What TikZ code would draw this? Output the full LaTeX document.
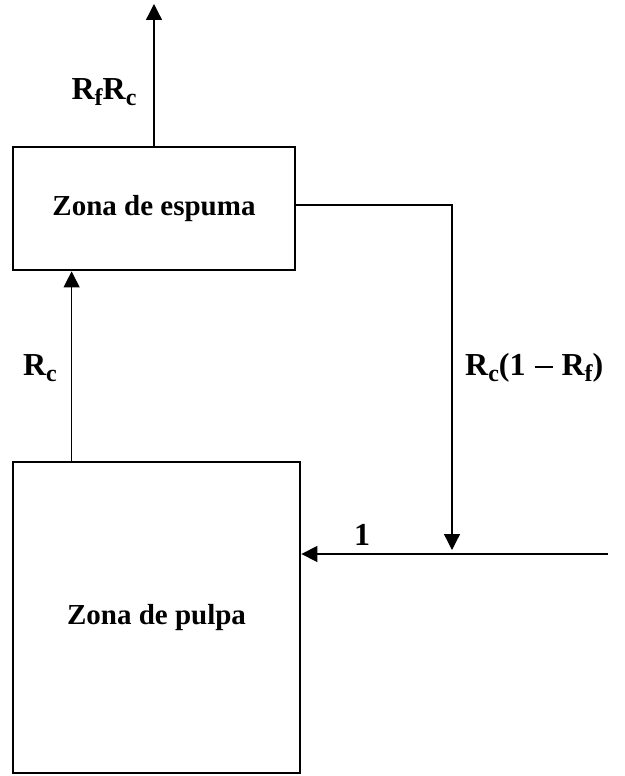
\documentclass[tikz,border=0pt]{standalone}
\usepackage{fontspec}
\setmainfont{Liberation Serif}
\usetikzlibrary{arrows.meta,positioning}
\newcommand{\lsub}[1]{\raisebox{-6pt}{\fontsize{24}{24}\selectfont #1}}
\newcommand{\lminus}{\hspace{9pt}\rule[8pt]{18pt}{1.8pt}\hspace{9pt}}
\tikzset{
  zone/.style={draw,line width=2.8pt,minimum width=282pt,inner sep=0pt,font=\fontsize{29}{33}\selectfont\bfseries},
  flow/.style={line width=1.3pt,-{Triangle[width=16pt,length=16pt]}},
  lbl/.style={font=\fontsize{32}{36}\selectfont\bfseries}
}
\begin{document}
\begin{tikzpicture}[x=1pt,y=-1pt]
  \useasboundingbox (0,0) rectangle (624,776);
  % zones
  \node[zone,minimum height=123pt] (espuma) at (154,208.5) {Zona de espuma};
  \node[zone,minimum width=287pt,minimum height=311pt] (pulpa) at (156.5,617.5) {Zona de pulpa};
  \coordinate (top) at (154,4);
  \coordinate (split) at (452,554);
  \coordinate (feed) at (608,554);
  % streams
  \draw[flow] (espuma.north) -- (top);
  \draw[flow] ([xshift=60pt]pulpa.north west) -- ([xshift=60pt]espuma.south west);
  \draw[flow] ([yshift=3.5pt]espuma.east) -| ([yshift=4pt]split);
  \draw[flow] (feed) -- (feed -| pulpa.east);
  % labels
  \node[lbl] (rfrc) at (104,92) {R\lsub{f}R\lsub{c}};
  \node[lbl] (rc) at (40,368) {R\lsub{c}};
  \node[lbl,right,inner sep=0pt] (rec) at (465,368) {R\lsub{c}(1\lminus R\lsub{f})};
  \node[lbl] (one) at (362,535) {1};
\end{tikzpicture}
\end{document}
